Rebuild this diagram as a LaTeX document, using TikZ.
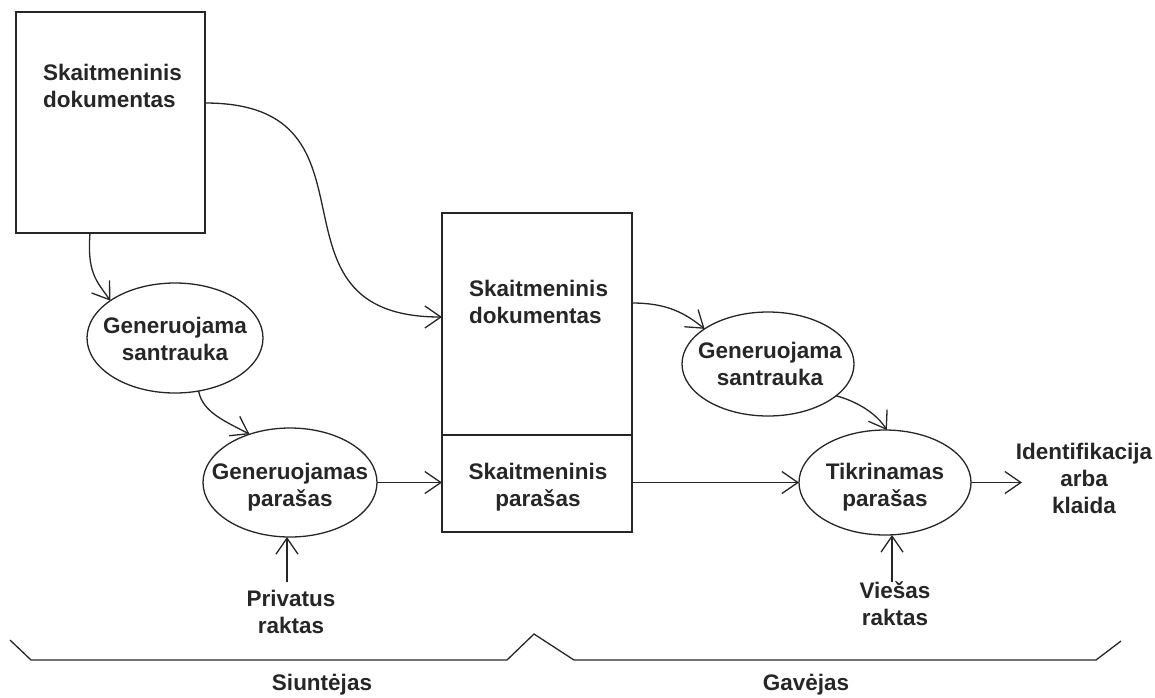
\documentclass[tikz,border=0pt]{standalone}
\usepackage{fontspec}
\setmainfont{Liberation Sans}
\usetikzlibrary{arrows.meta,shapes.geometric}
\begin{document}
\begin{tikzpicture}[x=1pt,y=-1pt,
  ln/.style={draw=black!85, line width=1.3pt},
  arr/.style={ln, -{Straight Barb[length=16pt,width=22pt]}},
  box/.style={ln, rectangle, inner sep=0pt, outer sep=0pt},
  ell/.style={ln, ellipse, inner sep=0pt, outer sep=0pt},
  txt/.style={font=\bfseries\fontsize{22.5}{27}\selectfont, align=center, inner sep=0pt, text=black!85}
]
\useasboundingbox (0,0) rectangle (1155,697);
% boxes
\node[box, minimum width=189pt, minimum height=221pt] (doc1) at (110.5,122.5) {};
\node[box, minimum width=190pt, minimum height=222pt] (doc2) at (537,324) {};
\node[box, minimum width=190pt, minimum height=97pt] (sig) at (537,483.5) {};
% ellipses
\node[ell, minimum width=176pt, minimum height=110pt] (e1) at (175,338) {};
\node[ell, minimum width=174pt, minimum height=109pt] (e2) at (290,482.5) {};
\node[ell, minimum width=172pt, minimum height=104pt] (e3) at (768,364) {};
\node[ell, minimum width=172pt, minimum height=105pt] (e4) at (885,482.5) {};
% texts
\node[txt, anchor=west, align=left] (doc1t) at (43,85.5) {Skaitmeninis\\dokumentas};
\node[txt, anchor=west, align=left] (doc2t) at (469,302) {Skaitmeninis\\dokumentas};
\node[txt] (sigt) at (538,487.5) {Skaitmeninis\\parašas};
\node[txt] (e1t) at (175,339) {Generuojama\\santrauka};
\node[txt] (e2t) at (290,487) {Generuojamas\\parašas};
\node[txt] (e3t) at (770,363.5) {Generuojama\\santrauka};
\node[txt] (e4t) at (885,487.5) {Tikrinamas\\parašas};
\node[txt] (res) at (1084,478) {Identifikacija\\arba\\klaida};
\node[txt] (pk) at (291,612) {Privatus\\raktas};
\node[txt] (vk) at (895,604) {Viešas\\raktas};
\node[txt, anchor=base] (snd) at (322,690) {Siuntėjas};
\node[txt, anchor=base] (rcv) at (806,690) {Gavėjas};
% free ends
\coordinate (resin) at (1022,482.5);
\coordinate (pkt) at (287,582);
\coordinate (vkt) at (892,582);
% connectors
\draw[arr] ([yshift=19.5pt]doc1.east) .. controls +(190,0) and +(-190,0) .. ([yshift=7pt]doc2.west);
\draw[arr] ([xshift=-20.5pt]doc1.south) .. controls +(-3,40) and +(-14,-20) .. (e1.150);
\draw[arr] (e1.-66) .. controls +(4,22) and +(-22,-12) .. (e2.130);
\draw[arr] (e2.east) -- (e2.east -| sig.west);
\draw[arr] ([yshift=21pt]doc2.east) .. controls +(35,0) and +(-20,-16) .. (e3.151);
\draw[arr] (e3.-25) .. controls +(22,6) and +(-10,-16) .. (e4.88);
\draw[arr] (e4.west -| sig.east) -- (e4.west);
\draw[arr] (e4.east) -- (resin);
\draw[arr] (pkt) -- (pkt |- e2.south);
\draw[arr] (vkt) -- (vkt |- e4.south);
% braces
\draw[ln] (10,640) -- (31,660) -- (507,660) -- (534,634) -- (574,660) -- (1096,660) -- (1121,641);
\end{tikzpicture}
\end{document}
